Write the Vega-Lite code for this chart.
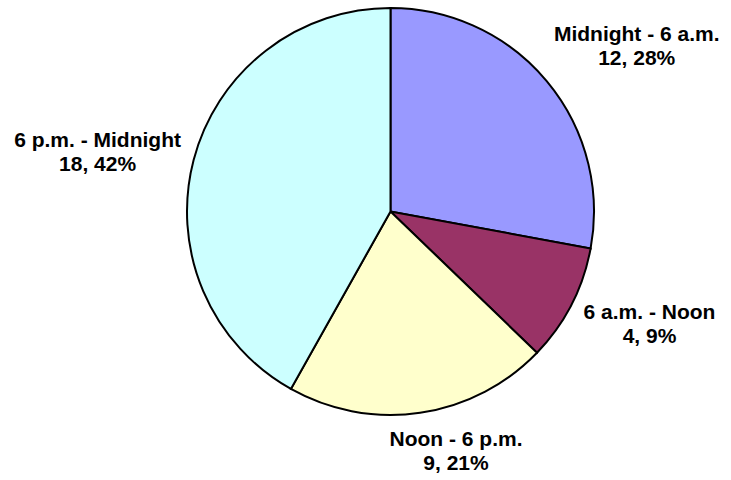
{
  "$schema": "https://vega.github.io/schema/vega-lite/v6.json",
  "width": 407,
  "height": 407,
  "autosize": {"type": "none"},
  "padding": {"left": 187, "top": 8, "right": 137, "bottom": 65},
  "background": "white",
  "view": {"stroke": null},
  "data": {
    "values": [
      {"period": "Midnight - 6 a.m.", "count": 12, "pct": "28%", "order": 1},
      {"period": "6 a.m. - Noon", "count": 4, "pct": "9%", "order": 2},
      {"period": "Noon - 6 p.m.", "count": 9, "pct": "21%", "order": 3},
      {"period": "6 p.m. - Midnight", "count": 18, "pct": "42%", "order": 4}
    ]
  },
  "transform": [
    {"stack": "count", "groupby": [], "sort": [{"field": "order", "order": "ascending"}], "as": ["t0", "t1"]},
    {"calculate": "(datum.t0 + datum.t1) / 2", "as": "tmid"},
    {"calculate": "[datum.period, datum.count + ', ' + datum.pct]", "as": "label"}
  ],
  "encoding": {
    "color": {
      "field": "period",
      "type": "nominal",
      "scale": {
        "domain": ["Midnight - 6 a.m.", "6 a.m. - Noon", "Noon - 6 p.m.", "6 p.m. - Midnight"],
        "range": ["#9999FF", "#993366", "#FFFFCC", "#CCFFFF"]
      },
      "legend": null
    }
  },
  "layer": [
    {
      "mark": {"type": "arc", "outerRadius": 203.5, "stroke": "black", "strokeWidth": 2},
      "encoding": {
        "theta": {"field": "t0", "type": "quantitative", "scale": {"domain": [0, 43]}, "stack": null},
        "theta2": {"field": "t1"}
      }
    },
    {
      "transform": [{"filter": "datum.period == 'Midnight - 6 a.m.'"}],
      "mark": {"type": "text", "radius": 280, "dx": 31, "dy": 3, "font": "Liberation Sans", "fontWeight": "bold", "fontSize": 21, "lineHeight": 24, "align": "center", "baseline": "middle"},
      "encoding": {"theta": {"field": "tmid", "type": "quantitative", "stack": null}, "text": {"field": "label"}, "color": {"value": "black"}}
    },
    {
      "transform": [{"filter": "datum.period == '6 a.m. - Noon'"}],
      "mark": {"type": "text", "radius": 280, "dx": 10, "dy": -27, "font": "Liberation Sans", "fontWeight": "bold", "fontSize": 21, "lineHeight": 24, "align": "center", "baseline": "middle"},
      "encoding": {"theta": {"field": "tmid", "type": "quantitative", "stack": null}, "text": {"field": "label"}, "color": {"value": "black"}}
    },
    {
      "transform": [{"filter": "datum.period == 'Noon - 6 p.m.'"}],
      "mark": {"type": "text", "radius": 230, "dx": 32, "dy": 1, "font": "Liberation Sans", "fontWeight": "bold", "fontSize": 21, "lineHeight": 24, "align": "center", "baseline": "middle"},
      "encoding": {"theta": {"field": "tmid", "type": "quantitative", "stack": null}, "text": {"field": "label"}, "color": {"value": "black"}}
    },
    {
      "transform": [{"filter": "datum.period == '6 p.m. - Midnight'"}],
      "mark": {"type": "text", "radius": 280, "dx": -22, "dy": 0, "font": "Liberation Sans", "fontWeight": "bold", "fontSize": 21, "lineHeight": 24, "align": "center", "baseline": "middle"},
      "encoding": {"theta": {"field": "tmid", "type": "quantitative", "stack": null}, "text": {"field": "label"}, "color": {"value": "black"}}
    }
  ]
}
